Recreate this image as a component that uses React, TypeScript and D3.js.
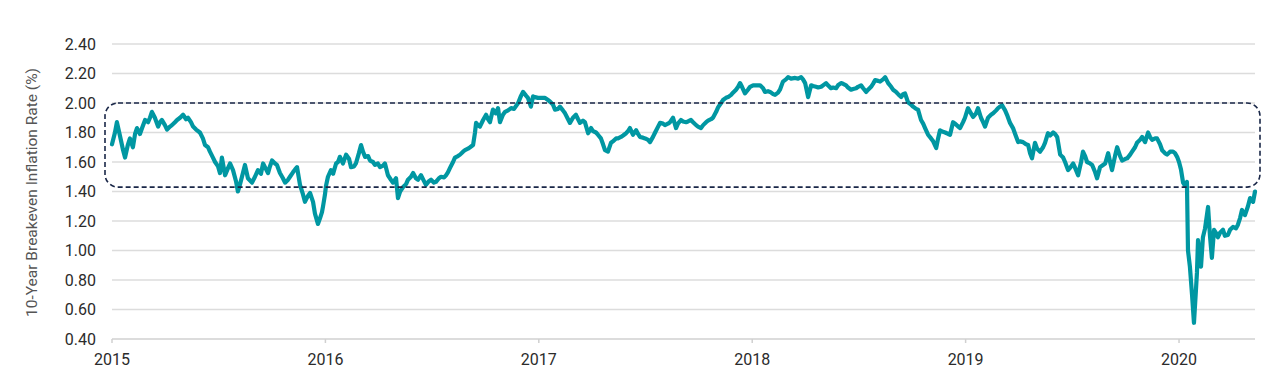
import React from "react";
import * as d3 from "d3";

// Years since the start of 2015 (axis position), and the breakeven rate in %
const yearLabels = [2015, 2016, 2017, 2018, 2019, 2020];
const yTickValues = [0.4, 0.6, 0.8, 1.0, 1.2, 1.4, 1.6, 1.8, 2.0, 2.2, 2.4];
const yTitle = "10-Year Breakeven Inflation Rate (%)";
const xExtent = [0, 5.356];
const bandLow = 1.43;
const bandHigh = 2.0;

const s2015: [number, number][] = [
  [0.000,1.72],[0.014,1.80],[0.023,1.87],[0.037,1.78],[0.052,1.68],[0.061,1.63],[0.075,1.72],[0.084,1.76],
  [0.098,1.70],[0.108,1.79],[0.117,1.83],[0.131,1.79],[0.141,1.83],[0.155,1.885],[0.169,1.87],[0.178,1.90],
  [0.187,1.94],[0.201,1.90],[0.216,1.84],[0.225,1.87],[0.234,1.885],[0.248,1.85],[0.258,1.82],[0.272,1.84],
  [0.281,1.85],[0.295,1.87],[0.305,1.885],[0.319,1.90],[0.333,1.92],[0.347,1.89],[0.356,1.90],[0.370,1.87],
  [0.380,1.84],[0.394,1.82],[0.412,1.80],[0.426,1.76],[0.436,1.715],[0.450,1.70],[0.459,1.67],[0.473,1.63],
  [0.483,1.60],[0.497,1.57],[0.506,1.525],[0.515,1.63],[0.530,1.51],[0.544,1.56],[0.553,1.59],[0.567,1.545],
  [0.581,1.47],[0.590,1.40],[0.600,1.45],[0.609,1.50],[0.623,1.58],[0.637,1.49],[0.656,1.46],[0.670,1.50],
  [0.684,1.545],[0.698,1.52],[0.708,1.59],[0.722,1.55],[0.731,1.525],[0.740,1.57],[0.750,1.61],[0.764,1.59],
  [0.773,1.58],[0.787,1.525],[0.801,1.49],[0.811,1.46],[0.825,1.48],[0.834,1.50],[0.848,1.53],[0.858,1.55],
  [0.867,1.565],[0.881,1.445],[0.895,1.38],[0.904,1.33],[0.918,1.37],[0.928,1.39],[0.942,1.33],[0.951,1.25],
  [0.965,1.18],[0.975,1.22],[0.984,1.26],[0.989,1.30],[0.998,1.38],
];

const s2016: [number, number][] = [
  [1.003,1.44],[1.012,1.50],[1.026,1.545],[1.036,1.52],[1.050,1.59],[1.059,1.60],[1.068,1.635],[1.082,1.59],
  [1.097,1.65],[1.111,1.62],[1.120,1.565],[1.134,1.57],[1.143,1.59],[1.157,1.66],[1.167,1.715],[1.176,1.67],
  [1.186,1.635],[1.200,1.64],[1.209,1.61],[1.223,1.60],[1.232,1.58],[1.246,1.59],[1.256,1.565],[1.270,1.575],
  [1.279,1.59],[1.293,1.51],[1.307,1.48],[1.317,1.46],[1.331,1.49],[1.340,1.355],[1.350,1.40],[1.364,1.43],
  [1.378,1.45],[1.387,1.48],[1.401,1.50],[1.411,1.525],[1.424,1.49],[1.434,1.48],[1.448,1.51],[1.462,1.47],
  [1.471,1.445],[1.485,1.47],[1.495,1.48],[1.509,1.46],[1.518,1.465],[1.532,1.49],[1.542,1.50],[1.556,1.495],
  [1.565,1.51],[1.574,1.53],[1.584,1.56],[1.598,1.60],[1.607,1.63],[1.621,1.64],[1.631,1.65],[1.645,1.67],
  [1.654,1.68],[1.668,1.69],[1.678,1.70],[1.692,1.715],[1.701,1.80],[1.706,1.865],[1.715,1.85],[1.724,1.84],
  [1.739,1.885],[1.753,1.92],[1.762,1.89],[1.771,1.87],[1.785,1.955],[1.799,1.93],[1.809,1.965],[1.818,1.87],
  [1.832,1.92],[1.842,1.94],[1.856,1.95],[1.870,1.965],[1.884,1.96],[1.903,2.00],[1.917,2.05],[1.926,2.075],
  [1.940,2.05],[1.949,2.035],[1.963,1.975],[1.973,2.045],[1.982,2.04],[1.996,2.035],
];

const s2017: [number, number][] = [
  [2.010,2.035],[2.029,2.035],[2.043,2.02],[2.052,2.01],[2.066,1.99],[2.076,1.955],[2.090,1.96],[2.099,1.975],
  [2.113,1.95],[2.123,1.93],[2.137,1.89],[2.146,1.865],[2.160,1.90],[2.174,1.92],[2.184,1.89],[2.193,1.865],
  [2.207,1.88],[2.216,1.87],[2.231,1.795],[2.245,1.83],[2.254,1.81],[2.268,1.80],[2.277,1.785],[2.291,1.76],
  [2.301,1.72],[2.310,1.68],[2.324,1.67],[2.338,1.73],[2.348,1.74],[2.362,1.76],[2.371,1.76],[2.385,1.77],
  [2.395,1.78],[2.409,1.795],[2.418,1.81],[2.427,1.83],[2.441,1.785],[2.456,1.815],[2.465,1.79],[2.474,1.77],
  [2.488,1.765],[2.498,1.76],[2.512,1.75],[2.521,1.735],[2.535,1.77],[2.545,1.80],[2.559,1.84],[2.568,1.865],
  [2.582,1.86],[2.591,1.85],[2.605,1.86],[2.615,1.87],[2.629,1.90],[2.643,1.83],[2.652,1.86],[2.666,1.885],
  [2.676,1.875],[2.690,1.87],[2.699,1.875],[2.713,1.885],[2.723,1.87],[2.737,1.85],[2.746,1.84],[2.760,1.83],
  [2.770,1.85],[2.784,1.87],[2.793,1.88],[2.807,1.89],[2.816,1.90],[2.831,1.94],[2.840,1.97],[2.854,2.00],
  [2.863,2.02],[2.877,2.035],[2.887,2.04],[2.901,2.055],[2.910,2.07],[2.924,2.09],[2.934,2.11],[2.943,2.135],
  [2.952,2.11],[2.966,2.065],[2.980,2.09],[2.990,2.11],
];

const s2018: [number, number][] = [
  [3.004,2.12],[3.018,2.12],[3.037,2.12],[3.051,2.10],[3.060,2.075],[3.074,2.08],[3.084,2.075],[3.098,2.06],
  [3.107,2.055],[3.121,2.07],[3.130,2.09],[3.144,2.145],[3.158,2.16],[3.168,2.175],[3.182,2.165],[3.201,2.17],
  [3.215,2.165],[3.229,2.175],[3.238,2.16],[3.248,2.135],[3.262,2.04],[3.276,2.12],[3.285,2.115],[3.299,2.11],
  [3.309,2.105],[3.323,2.11],[3.332,2.12],[3.346,2.135],[3.355,2.12],[3.369,2.10],[3.379,2.105],[3.393,2.10],
  [3.402,2.12],[3.416,2.135],[3.426,2.13],[3.440,2.12],[3.449,2.105],[3.463,2.09],[3.473,2.095],[3.487,2.10],
  [3.496,2.11],[3.510,2.12],[3.520,2.10],[3.534,2.075],[3.543,2.09],[3.557,2.11],[3.566,2.13],[3.576,2.155],
  [3.590,2.15],[3.599,2.145],[3.613,2.16],[3.623,2.175],[3.637,2.135],[3.651,2.11],[3.660,2.09],[3.674,2.075],
  [3.684,2.06],[3.698,2.04],[3.707,2.06],[3.716,2.065],[3.730,2.005],[3.744,1.99],[3.754,1.975],[3.768,1.96],
  [3.777,1.955],[3.791,1.885],[3.801,1.86],[3.810,1.83],[3.824,1.785],[3.838,1.76],[3.848,1.74],[3.862,1.695],
  [3.871,1.76],[3.880,1.815],[3.894,1.805],[3.904,1.80],[3.918,1.79],[3.927,1.785],[3.941,1.87],[3.951,1.86],
  [3.965,1.84],[3.974,1.83],[3.988,1.87],[3.997,1.90],
];

const s2019: [number, number][] = [
  [4.011,1.965],[4.021,1.94],[4.035,1.905],[4.049,1.93],[4.058,1.965],[4.072,1.90],[4.082,1.87],[4.091,1.84],
  [4.105,1.90],[4.119,1.92],[4.129,1.93],[4.143,1.95],[4.152,1.965],[4.161,1.975],[4.171,1.985],[4.185,1.95],
  [4.194,1.92],[4.208,1.865],[4.222,1.83],[4.232,1.79],[4.246,1.735],[4.255,1.74],[4.269,1.735],[4.283,1.72],
  [4.293,1.715],[4.302,1.66],[4.311,1.625],[4.325,1.73],[4.335,1.69],[4.349,1.67],[4.363,1.70],[4.372,1.73],
  [4.386,1.795],[4.396,1.78],[4.410,1.80],[4.419,1.79],[4.429,1.77],[4.443,1.65],[4.457,1.63],[4.466,1.60],
  [4.480,1.545],[4.489,1.56],[4.504,1.59],[4.513,1.56],[4.527,1.51],[4.541,1.60],[4.550,1.67],[4.560,1.64],
  [4.569,1.60],[4.583,1.59],[4.593,1.58],[4.607,1.53],[4.616,1.49],[4.630,1.565],[4.644,1.58],[4.654,1.59],
  [4.668,1.66],[4.677,1.60],[4.686,1.545],[4.700,1.64],[4.710,1.70],[4.724,1.64],[4.733,1.61],[4.747,1.62],
  [4.757,1.625],[4.771,1.65],[4.780,1.67],[4.794,1.70],[4.803,1.73],[4.817,1.75],[4.827,1.77],[4.841,1.735],
  [4.855,1.80],[4.864,1.77],[4.874,1.75],[4.888,1.76],[4.897,1.76],[4.911,1.72],[4.921,1.68],[4.934,1.66],
  [4.944,1.65],[4.958,1.67],[4.972,1.67],[4.981,1.66],[4.991,1.635],
];

const s2020: [number, number][] = [
  [5.000,1.60],[5.009,1.55],[5.019,1.46],[5.028,1.44],[5.037,1.465],[5.042,1.00],[5.051,0.89],[5.061,0.70],
  [5.070,0.51],[5.080,0.75],[5.084,0.85],[5.089,1.07],[5.098,0.95],[5.103,0.89],[5.112,1.09],[5.122,1.15],
  [5.136,1.295],[5.145,1.10],[5.154,0.95],[5.164,1.14],[5.173,1.12],[5.182,1.09],[5.192,1.12],[5.206,1.14],
  [5.215,1.10],[5.229,1.105],[5.239,1.14],[5.253,1.16],[5.267,1.15],[5.276,1.175],[5.286,1.22],[5.295,1.275],
  [5.309,1.24],[5.323,1.30],[5.333,1.355],[5.347,1.33],[5.356,1.40],
];

const series = [...s2015, ...s2016, ...s2017, ...s2018, ...s2019, ...s2020];

export default function App() {
  const W = 1280;
  const H = 376;
  const left = 112;
  const right = 1255;
  const top = 44;
  const bottom = 339;

  const x = d3.scaleLinear().domain(xExtent).range([left, right]);
  const y = d3.scaleLinear().domain([0.4, 2.4]).range([bottom, top]);

  const line = d3
    .line<[number, number]>()
    .x((d) => x(d[0]))
    .y((d) => y(d[1]))
    .curve(d3.curveLinear);

  const font = "Roboto, 'Noto Sans', Arial, sans-serif";
  const bandX0 = x(xExtent[0]) - 7;
  const bandX1 = x(xExtent[1]) + 5;

  return (
    <svg
      width={W}
      height={H}
      style={{ position: "absolute", left: 0, top: 0, background: "#fff" }}
      fontFamily={font}
    >
      {yTickValues.map((v) =>
        v === 0.4 ? null : (
          <line key={"g" + v} x1={left} x2={right} y1={y(v)} y2={y(v)} stroke="#dcdcdc" strokeWidth={1.5} />
        )
      )}
      <line x1={left} x2={right} y1={y(0.4)} y2={y(0.4)} stroke="#d0d0d0" strokeWidth={1.5} />
      {yearLabels.map((yr, i) => (
        <g key={yr}>
          <line x1={x(i)} x2={x(i)} y1={y(0.4)} y2={y(0.4) + 4} stroke="#d0d0d0" strokeWidth={1.5} />
          <text x={x(i)} y={365} textAnchor="middle" fontSize={16} fill="#2b2b2b">
            {yr}
          </text>
        </g>
      ))}
      {yTickValues.map((v) => (
        <text key={"t" + v} x={96} y={y(v)} dy="0.36em" textAnchor="end" fontSize={16} fill="#2b2b2b">
          {v.toFixed(2)}
        </text>
      ))}
      <text
        transform={`translate(32,${(top + bottom) / 2 + 1}) rotate(-90)`}
        textAnchor="middle"
        dy="0.35em"
        fontSize={15.5}
        fill="#555"
      >
        {yTitle}
      </text>
      <path
        d={line(series) || ""}
        fill="none"
        stroke="#0097a2"
        strokeWidth={4.2}
        strokeLinejoin="round"
        strokeLinecap="round"
      />
      <rect
        x={bandX0}
        y={y(bandHigh)}
        width={bandX1 - bandX0}
        height={y(bandLow) - y(bandHigh)}
        rx={13}
        ry={13}
        fill="none"
        stroke="#1a2748"
        strokeWidth={1.6}
        strokeDasharray="5,3"
      />
    </svg>
  );
}
